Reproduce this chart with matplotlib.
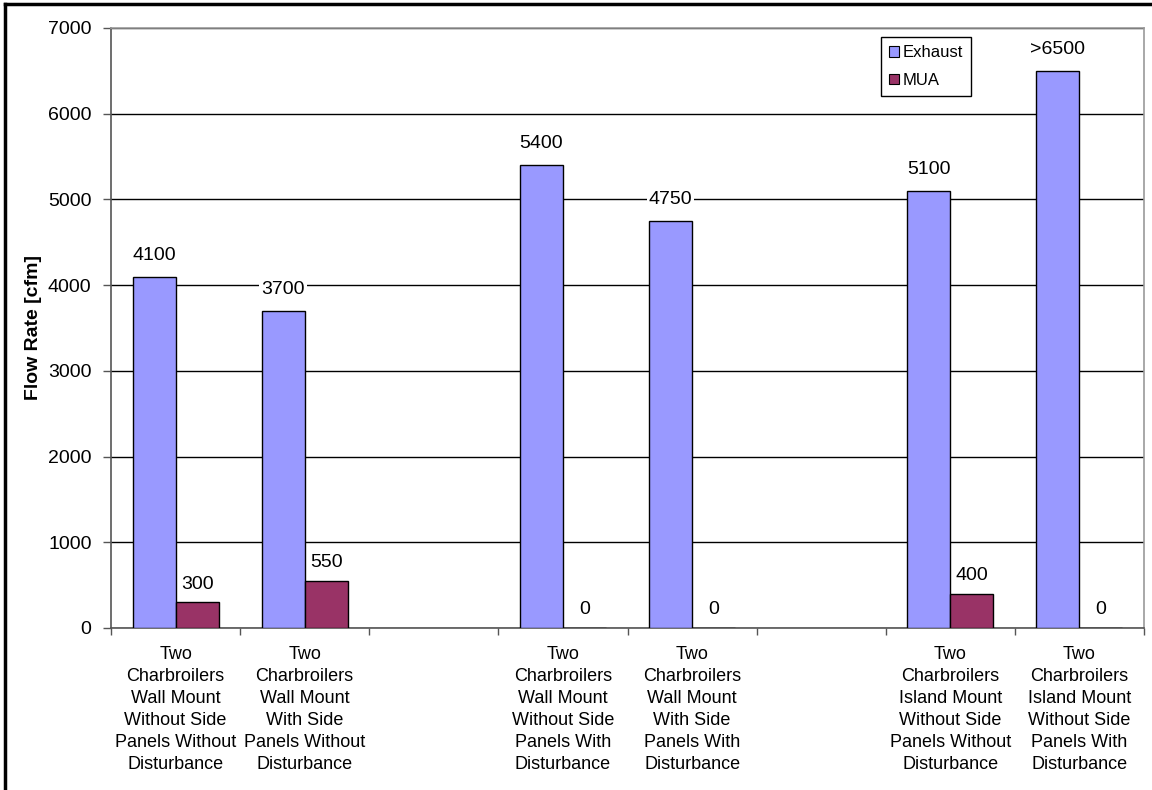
import numpy as np
import matplotlib
matplotlib.use("Agg")
import matplotlib.pyplot as plt
from matplotlib.patches import Patch
from matplotlib.lines import Line2D

plt.rcParams['font.family'] = ['Liberation Sans', 'DejaVu Sans']

categories = [
    "Two\nCharbroilers\nWall Mount\nWithout Side\nPanels Without\nDisturbance",
    "Two\nCharbroilers\nWall Mount\nWith Side\nPanels Without\nDisturbance",
    "",
    "Two\nCharbroilers\nWall Mount\nWithout Side\nPanels With\nDisturbance",
    "Two\nCharbroilers\nWall Mount\nWith Side\nPanels With\nDisturbance",
    "",
    "Two\nCharbroilers\nIsland Mount\nWithout Side\nPanels Without\nDisturbance",
    "Two\nCharbroilers\nIsland Mount\nWithout Side\nPanels With\nDisturbance",
]
exhaust = [4100, 3700, None, 5400, 4750, None, 5100, 6500]
mua = [300, 550, None, 0, 0, None, 400, 0]
exhaust_labels = ["4100", "3700", "", "5400", "4750", "", "5100", ">6500"]
mua_labels = ["300", "550", "", "0", "0", "", "400", "0"]
yticks = [0, 1000, 2000, 3000, 4000, 5000, 6000, 7000]

W, H = 1152, 790
fig = plt.figure(figsize=(W / 100, H / 100), dpi=100)
ax = fig.add_axes([111 / W, 1 - 628 / H, (1144 - 111) / W, (628 - 28) / H])

n = len(categories)
x = np.arange(n)
bw = 1 / 3
ex_vals = [np.nan if v is None else v for v in exhaust]
mu_vals = [np.nan if v is None else v for v in mua]

ax.set_axisbelow(True)
ax.bar(x - bw / 2, ex_vals, bw, color="#9999FF", edgecolor="black", linewidth=1.0, label="Exhaust", zorder=3)
ax.bar(x + bw / 2, mu_vals, bw, color="#993366", edgecolor="black", linewidth=1.0, label="MUA", zorder=3)

for i in range(n):
    if exhaust_labels[i]:
        ax.annotate(exhaust_labels[i], (x[i] - bw / 2, ex_vals[i]), xytext=(0, 15.5),
                    textcoords="offset points", ha="center", va="center", fontsize=14,
                    bbox=dict(facecolor="white", edgecolor="none", pad=1.5), zorder=4)
    if mua_labels[i]:
        ax.annotate(mua_labels[i], (x[i] + bw / 2, mu_vals[i]), xytext=(0, 13),
                    textcoords="offset points", ha="center", va="center", fontsize=14,
                    bbox=dict(facecolor="white", edgecolor="none", pad=1.5), zorder=4)

ax.set_xlim(-0.5, n - 0.5)
ax.set_ylim(0, 7000)
ax.set_yticks(yticks)
ax.set_yticklabels([str(t) for t in yticks], fontsize=14)
ax.yaxis.grid(True, color="black", linewidth=1.0)

ax.set_xticks(np.arange(n + 1) - 0.5)
ax.set_xticklabels([])
ax.set_xticks(x, minor=True)
ax.set_xticklabels(categories, minor=True, fontsize=13, linespacing=1.38)
ax.tick_params(axis="x", which="major", length=5, width=1, color="#555555", direction="out")
ax.tick_params(axis="x", which="minor", length=0, pad=13)
ax.tick_params(axis="y", length=6, width=1, color="#555555", pad=8)

for s in ["left", "bottom"]:
    ax.spines[s].set_color("#555555")
    ax.spines[s].set_linewidth(1.2)
for s in ["top", "right"]:
    ax.spines[s].set_color("#999999")
    ax.spines[s].set_linewidth(1.2)

ax.set_ylabel("Flow Rate [cfm]", fontsize=14, fontweight="bold")
ax.yaxis.set_label_coords(-(111 - 42) / (1144 - 111), 0.5)

handles = [Patch(facecolor="#9999FF", edgecolor="black", linewidth=0.8),
           Patch(facecolor="#993366", edgecolor="black", linewidth=0.8)]
leg = ax.legend(handles, ["Exhaust", "MUA"], loc="upper left", bbox_to_anchor=(0.745, 0.985),
                fontsize=12, frameon=True, fancybox=False, edgecolor="black", framealpha=1,
                handlelength=0.6, handleheight=0.6, handletextpad=0.2, borderpad=0.5,
                labelspacing=0.75, borderaxespad=0)
leg.get_frame().set_linewidth(1.0)
leg.set_zorder(5)

# outer chart border (left and top visible)
fig.add_artist(Line2D([5 / W, 5 / W], [0, 1 - 4 / H], transform=fig.transFigure, color="black", linewidth=2.5))
fig.add_artist(Line2D([5 / W, 1], [1 - 4 / H, 1 - 4 / H], transform=fig.transFigure, color="black", linewidth=2.5))

fig.savefig("out.png", dpi=100, facecolor="white")
